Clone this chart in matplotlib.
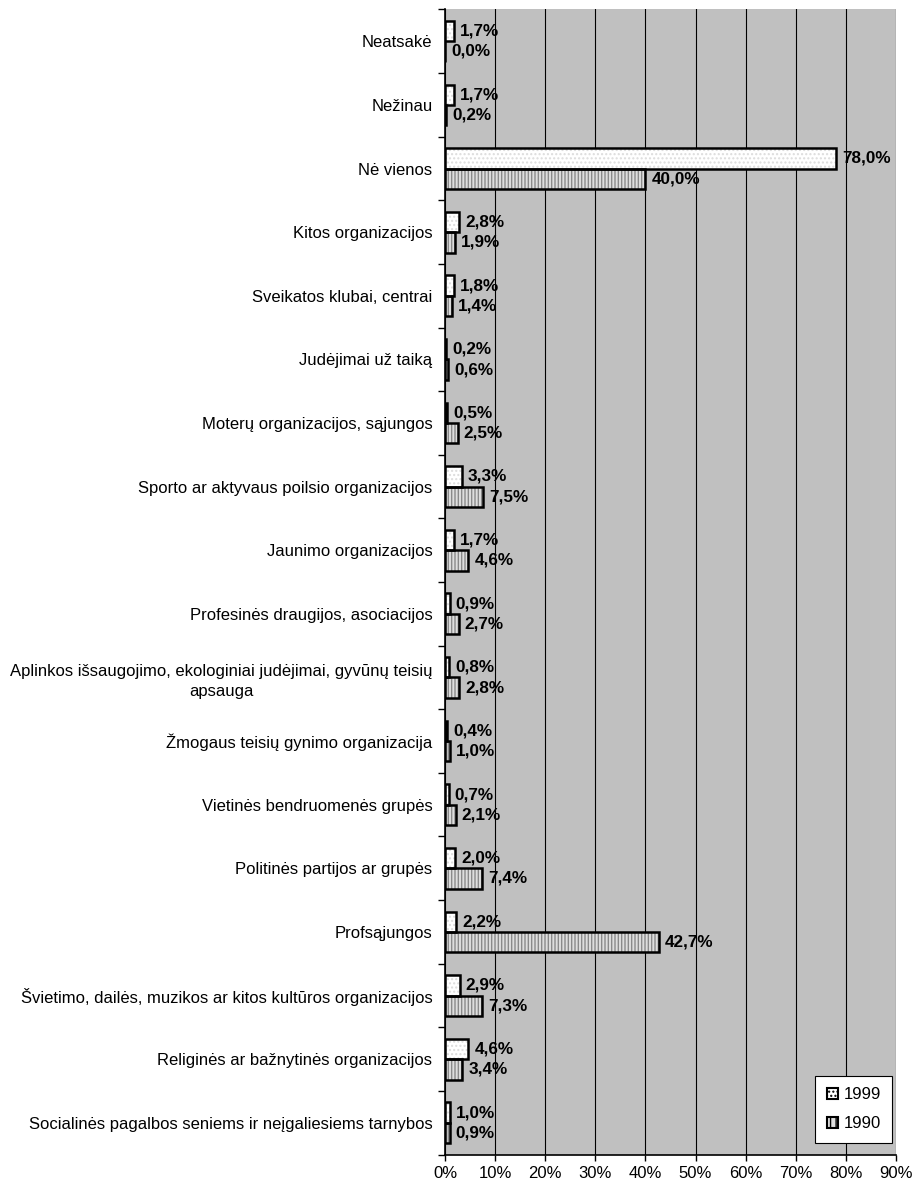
import numpy as np
import matplotlib.pyplot as plt
from matplotlib.ticker import FixedLocator
from matplotlib.patches import Patch

plt.rcParams['font.family'] = ['Liberation Sans', 'DejaVu Sans']

categories = [
    "Neatsakė",
    "Nežinau",
    "Nė vienos",
    "Kitos organizacijos",
    "Sveikatos klubai, centrai",
    "Judėjimai už taiką",
    "Moterų organizacijos, sąjungos",
    "Sporto ar aktyvaus poilsio organizacijos",
    "Jaunimo organizacijos",
    "Profesinės draugijos, asociacijos",
    "Aplinkos išsaugojimo, ekologiniai judėjimai, gyvūnų teisių\napsauga",
    "Žmogaus teisių gynimo organizacija",
    "Vietinės bendruomenės grupės",
    "Politinės partijos ar grupės",
    "Profsąjungos",
    "Švietimo, dailės, muzikos ar kitos kultūros organizacijos",
    "Religinės ar bažnytinės organizacijos",
    "Socialinės pagalbos seniems ir neįgaliesiems tarnybos",
]
v1999 = [1.7, 1.7, 78.0, 2.8, 1.8, 0.2, 0.5, 3.3, 1.7, 0.9, 0.8, 0.4, 0.7, 2.0, 2.2, 2.9, 4.6, 1.0]
v1990 = [0.0, 0.2, 40.0, 1.9, 1.4, 0.6, 2.5, 7.5, 4.6, 2.7, 2.8, 1.0, 2.1, 7.4, 42.7, 7.3, 3.4, 0.9]
xticks = [0, 10, 20, 30, 40, 50, 60, 70, 80, 90]

fig = plt.figure(figsize=(9.16, 11.86), dpi=100)
ax = fig.add_axes([0.4858, 0.0265, 0.4924, 0.9655])
ax.set_facecolor('#c0c0c0')

n = len(categories)
y = np.arange(n)
h = 0.32

# fills with light hatch, then black outline on top
ax.barh(y - h / 2, v1999, height=h, color='white', edgecolor='#dcdcdc', hatch='....', linewidth=0, zorder=3)
ax.barh(y + h / 2, v1990, height=h, color='#dedede', edgecolor='#8a8a8a', hatch='|||||', linewidth=0, zorder=3)
ax.barh(y - h / 2, v1999, height=h, fill=False, edgecolor='black', linewidth=1.8, zorder=4)
ax.barh(y + h / 2, v1990, height=h, fill=False, edgecolor='black', linewidth=1.8, zorder=4)

for yi, a, b in zip(y, v1999, v1990):
    ax.annotate(f"{a:.1f}%".replace('.', ','), (a, yi - h / 2), xytext=(4.5, 0), textcoords='offset points',
                va='center', ha='left', fontsize=12.3, fontweight='bold', zorder=5)
    ax.annotate(f"{b:.1f}%".replace('.', ','), (b, yi + h / 2), xytext=(4.5, 0), textcoords='offset points',
                va='center', ha='left', fontsize=12.3, fontweight='bold', zorder=5)

ax.set_xlim(0, 90)
ax.set_ylim(n - 0.5, -0.5)
ax.set_xticks(xticks)
ax.set_xticklabels([f"{t}%" for t in xticks], fontsize=12)
ax.set_yticks(y)
ax.set_yticklabels(categories, fontsize=12, linespacing=1.45)
ax.yaxis.set_minor_locator(FixedLocator(np.arange(n + 1) - 0.5))
ax.tick_params(axis='y', which='major', length=0, pad=9)
ax.tick_params(axis='y', which='minor', length=5, width=1, direction='out')
ax.tick_params(axis='x', length=4, width=1, direction='out', pad=4)
for lab in ax.get_yticklabels():
    lab.set_multialignment('center')

ax.grid(axis='x', color='black', linewidth=0.8, zorder=1)
ax.set_axisbelow(True)
ax.spines['top'].set_visible(False)
ax.spines['right'].set_visible(False)
ax.spines['left'].set_linewidth(1.2)
ax.spines['bottom'].set_linewidth(1.2)

handles = [Patch(facecolor='white', edgecolor='black', hatch='....', linewidth=1.5, label='1999'),
           Patch(facecolor='#dedede', edgecolor='black', hatch='|||', linewidth=1.5, label='1990')]
leg = ax.legend(handles=handles, loc='lower right', bbox_to_anchor=(0.992, 0.01), borderaxespad=0,
                fontsize=12, frameon=True, fancybox=False, edgecolor='black', framealpha=1,
                handlelength=0.7, handleheight=0.7, handletextpad=0.3, labelspacing=0.85,
                borderpad=0.7)
leg.get_frame().set_linewidth(0.8)

fig.savefig('out.png', dpi=100)
